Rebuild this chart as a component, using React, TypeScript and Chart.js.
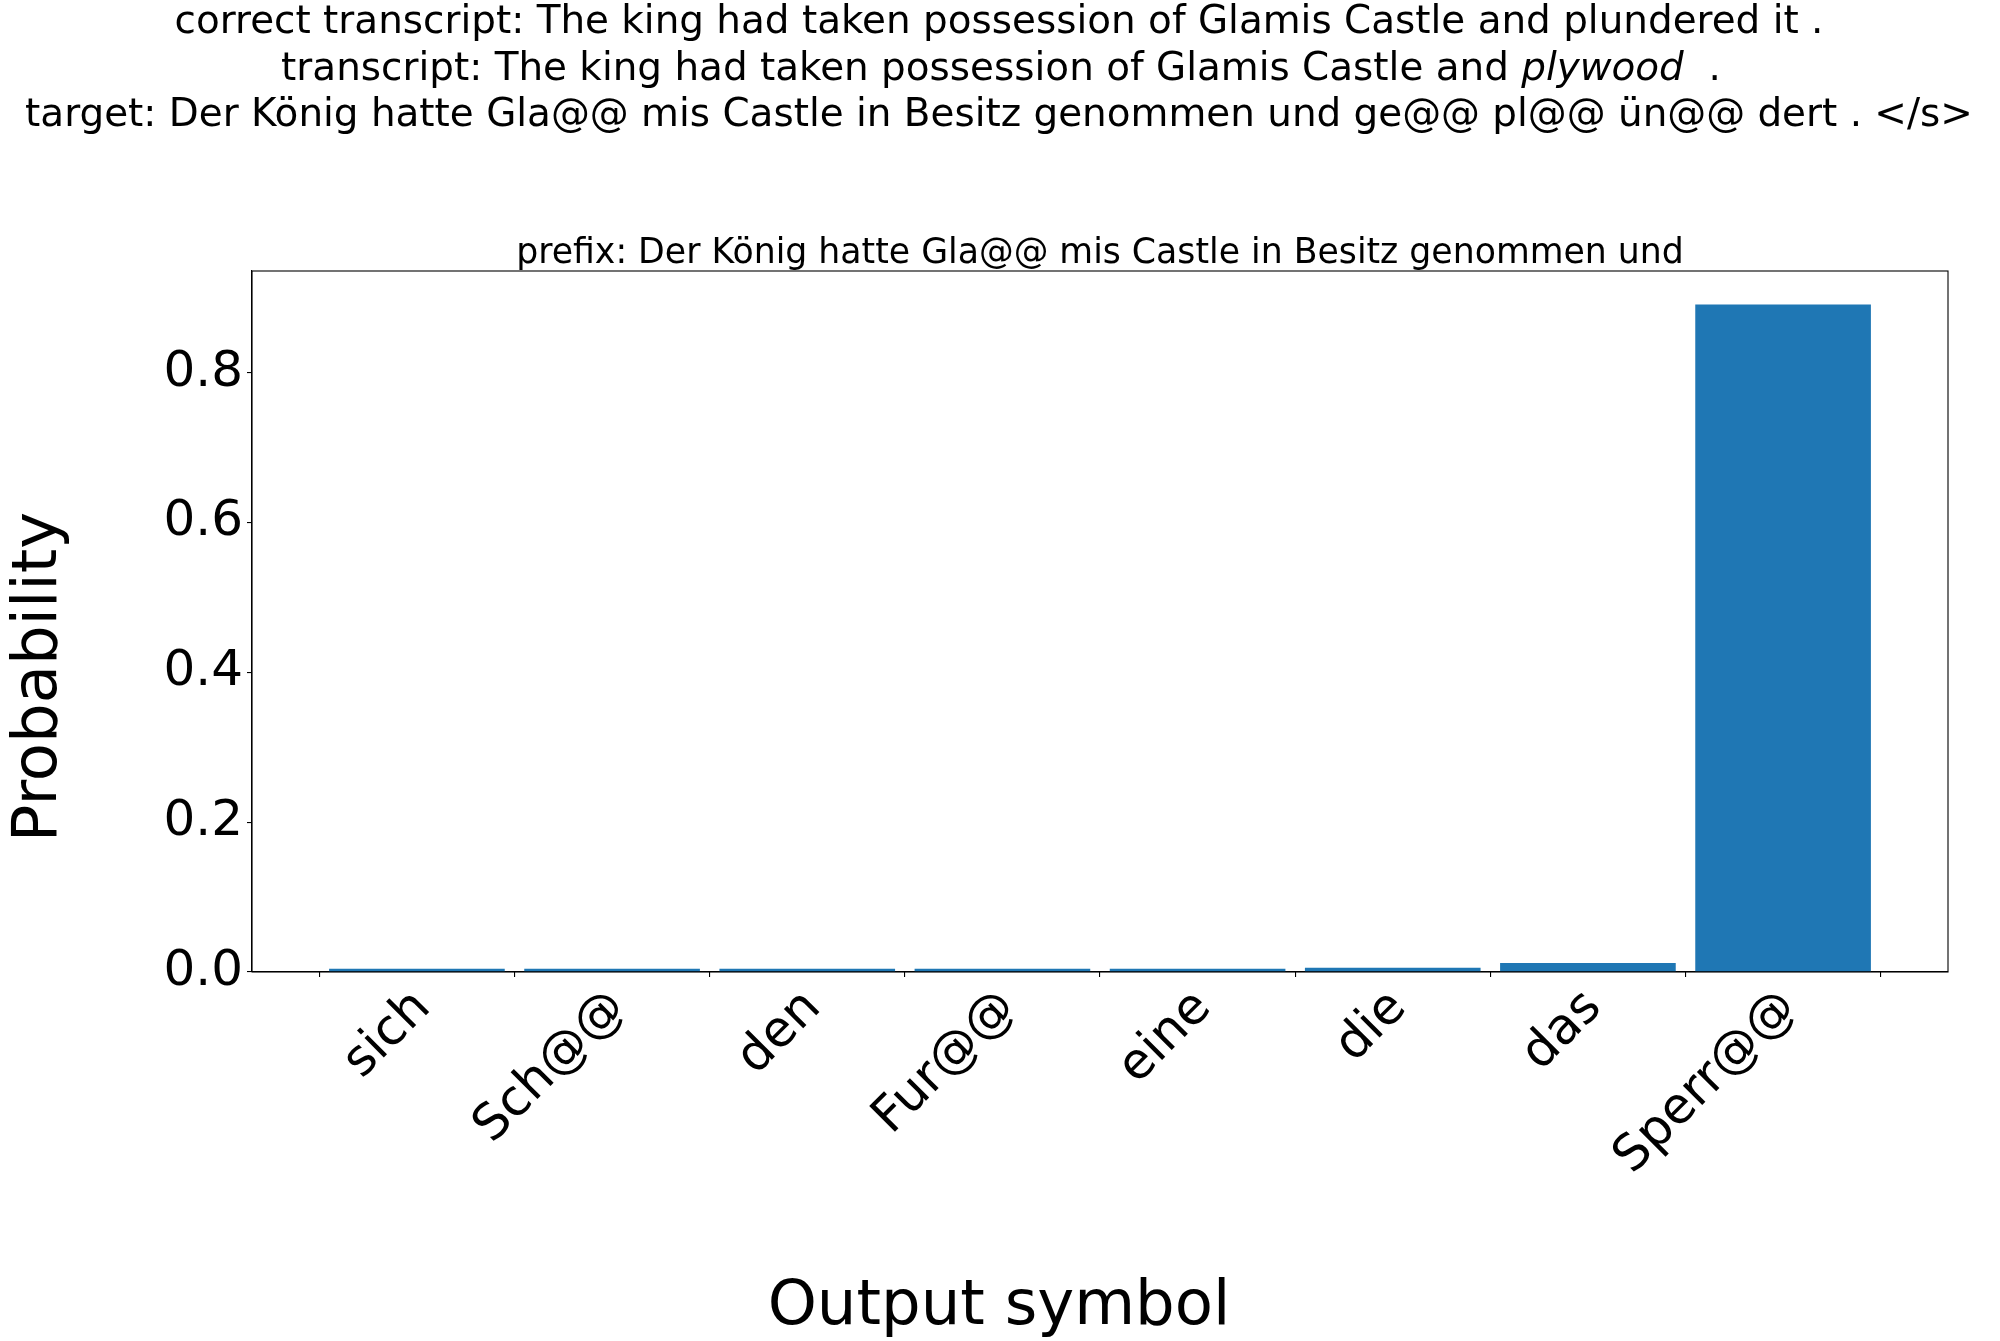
import React, { useEffect, useRef } from 'react';
import { Chart, registerables } from 'chart.js';

Chart.register(...registerables);

const FONT = '"DejaVu Sans", sans-serif';

const categories = ['sich', 'Sch@@', 'den', 'Fur@@', 'eine', 'die', 'das', 'Sperr@@'];
const probabilities = [0.0044, 0.0043, 0.0043, 0.0043, 0.0042, 0.0058, 0.012, 0.891];
const yTickValues = [0, 0.2, 0.4, 0.6, 0.8];

const titleLine1 = 'correct transcript: The king had taken possession of Glamis Castle and plundered it .';
const titleLine2Parts: [string, boolean][] = [
  ['transcript: The king had taken possession of Glamis Castle and ', false],
  ['plywood', true],
  ['  .', false],
];
const titleLine3 = 'target: Der König hatte Gla@@ mis Castle in Besitz genommen und ge@@ pl@@ ün@@ dert . </s>';
const subtitle = 'prefix: Der König hatte Gla@@ mis Castle in Besitz genommen und';
const xLabel = 'Output symbol';
const yLabel = 'Probability';

const BAR_COLOR = '#1f77b4';
const TICK_FONT_SIZE = 50;
const LABEL_FONT_SIZE = 62.5;

const textPlugin = {
  id: 'mplText',
  afterDraw(chart: any) {
    const ctx: CanvasRenderingContext2D = chart.ctx;
    const { left, right, top, bottom } = chart.chartArea;
    ctx.save();
    // frame (all four spines)
    ctx.strokeStyle = '#000';
    ctx.lineWidth = 1.1;
    ctx.strokeRect(left, top, right - left, bottom - top);

    ctx.fillStyle = '#000';
    // suptitle lines
    const titleSize = 38.9;
    const cx = 999;
    ctx.textBaseline = 'alphabetic';
    ctx.font = `${titleSize}px ${FONT}`;
    ctx.textAlign = 'center';
    ctx.fillText(titleLine1, cx, 33);
    // line 2 mixed styles
    let total = 0;
    const widths: number[] = [];
    titleLine2Parts.forEach(([t, it]) => {
      ctx.font = `${it ? 'italic ' : ''}${titleSize}px ${FONT}`;
      const w = ctx.measureText(t).width;
      widths.push(w);
      total += w;
    });
    let x = cx + 2 - total / 2;
    ctx.textAlign = 'left';
    titleLine2Parts.forEach(([t, it], i) => {
      ctx.font = `${it ? 'italic ' : ''}${titleSize}px ${FONT}`;
      ctx.fillText(t, x, 79.5);
      x += widths[i];
    });
    ctx.textAlign = 'center';
    ctx.font = `${titleSize}px ${FONT}`;
    ctx.fillText(titleLine3, cx, 126);

    // axes title
    ctx.font = `34.7px ${FONT}`;
    ctx.fillText(subtitle, (left + right) / 2, top - 8.5);

    // x label
    ctx.font = `${LABEL_FONT_SIZE}px ${FONT}`;
    ctx.fillText(xLabel, cx, 1324);

    // y label
    ctx.save();
    ctx.translate(56, 677);
    ctx.rotate(-Math.PI / 2);
    ctx.fillText(yLabel, 0, 0);
    ctx.restore();

    // x tick labels, rotated 45 degrees
    const xs = chart.scales.x;
    ctx.font = `${TICK_FONT_SIZE}px ${FONT}`;
    ctx.textAlign = 'right';
    ctx.textBaseline = 'middle';
    categories.forEach((c, i) => {
      const px = xs.getPixelForValue(i);
      ctx.save();
      ctx.translate(px + 6, bottom + 28);
      ctx.rotate(-Math.PI / 4);
      ctx.fillText(c, 0, 0);
      ctx.restore();
    });
    ctx.restore();
  },
};

export default function App() {
  const ref = useRef<HTMLCanvasElement | null>(null);

  useEffect(() => {
    if (!ref.current) return;
    const yMax = Math.max(...probabilities) * 1.05;
    const chart = new Chart(ref.current, {
      type: 'bar',
      data: {
        datasets: [
          {
            data: probabilities.map((v, i) => ({ x: i, y: v })),
            backgroundColor: BAR_COLOR,
            borderWidth: 0,
            barPercentage: 0.9,
            categoryPercentage: 1.0,
          },
        ],
      },
      options: {
        animation: false,
        responsive: false,
        devicePixelRatio: 1,
        layout: { padding: { top: 271, right: 52, left: 0, bottom: 0 } },
        plugins: {
          legend: { display: false },
          tooltip: { enabled: false },
          title: { display: false },
        },
        scales: {
          x: {
            type: 'linear',
            min: -0.845,
            max: 7.845,
            offset: false,
            grid: {
              display: true,
              drawOnChartArea: false,
              drawTicks: true,
              tickLength: 5,
              color: '#000',
              lineWidth: 1.1,
            },
            border: { display: true, color: '#000', width: 1.1 },
            ticks: { display: false },
            afterBuildTicks: (s: any) => {
              s.ticks = categories.map((_, i) => ({ value: i }));
            },
            afterFit: (s: any) => {
              s.height = 369;
            },
          },
          y: {
            type: 'linear',
            min: 0,
            max: yMax,
            grid: {
              display: true,
              drawOnChartArea: false,
              drawTicks: true,
              tickLength: 5,
              color: '#000',
              lineWidth: 1.1,
            },
            border: { display: true, color: '#000', width: 1.1 },
            ticks: {
              padding: 4,
              color: '#000',
              font: { family: FONT, size: TICK_FONT_SIZE },
              callback: (v: any) => Number(v).toFixed(1),
            },
            afterBuildTicks: (s: any) => {
              s.ticks = yTickValues.map((v) => ({ value: v }));
            },
            afterFit: (s: any) => {
              s.width = 252;
            },
          },
        },
      },
      plugins: [textPlugin],
    } as any);
    return () => chart.destroy();
  }, []);

  return (
    <div style={{ position: 'absolute', left: 0, top: 0, width: 2000, height: 1341, background: '#fff' }}>
      <canvas ref={ref} width={2000} height={1341} />
    </div>
  );
}
